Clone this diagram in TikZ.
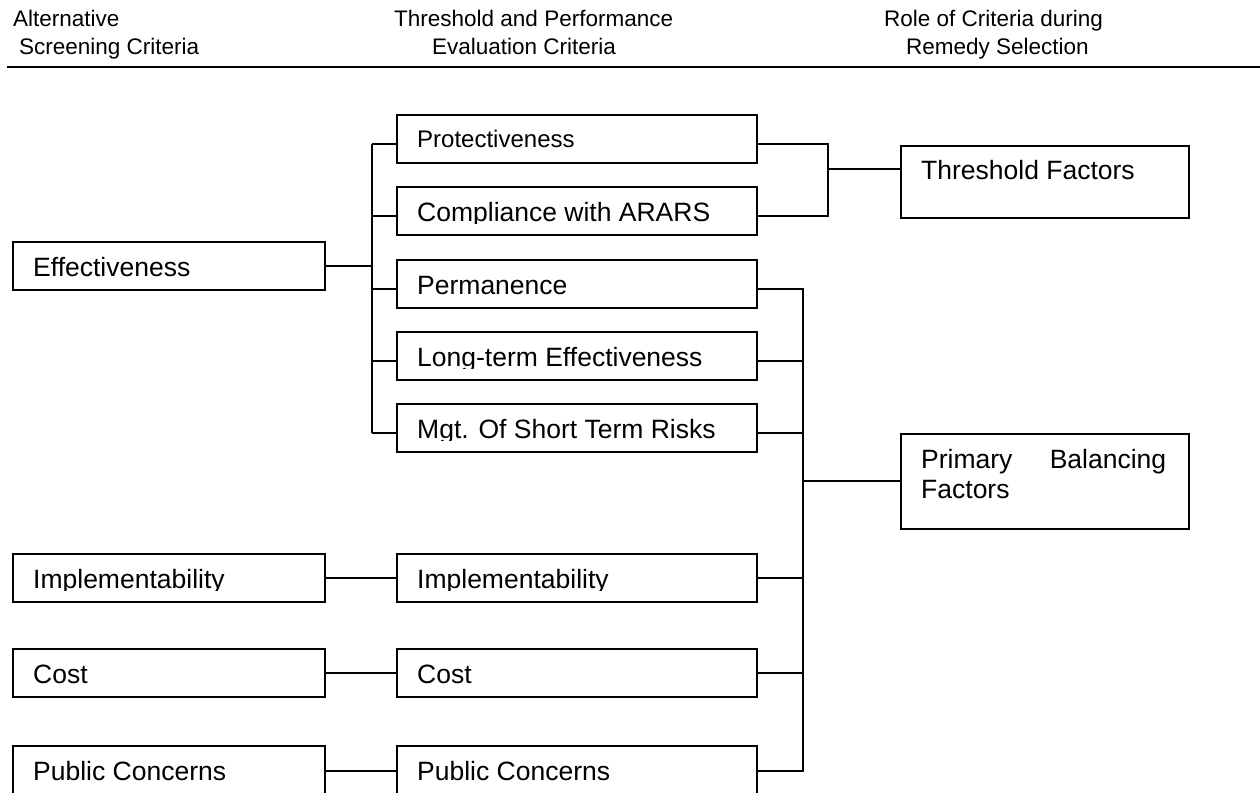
\documentclass[tikz,border=0pt]{standalone}
\usepackage{fontspec}
\setmainfont{Liberation Sans}
\usetikzlibrary{calc}
\begin{document}
\begin{tikzpicture}[x=1pt,y=-1pt,
  box/.style={draw, line width=1.8pt, inner sep=0pt, anchor=north west},
  wide/.style={minimum width=#1},
  tall/.style={minimum height=#1},
  wire/.style={line width=1.8pt},
  txt/.style={anchor=base west, inner sep=0pt, font=\fontsize{26.5pt}{30.5pt}\selectfont},
  smalltxt/.style={anchor=base west, inner sep=0pt, font=\fontsize{24pt}{28pt}\selectfont},
  headtxt/.style={anchor=base west, inner sep=0pt, font=\fontsize{22.5pt}{27pt}\selectfont},
  rulestyle/.style={line width=2.7pt}
]
\useasboundingbox (0,0) rectangle (1260,792);

% header
\node[headtxt] (h1a) at (13,27) {Alternative};
\node[headtxt] (h1b) at (19,55) {Screening Criteria};
\node[headtxt] (h2a) at (394,27) {Threshold and Performance};
\node[headtxt] (h2b) at (432,55) {Evaluation Criteria};
\node[headtxt] (h3a) at (884,27) {Role of Criteria during};
\node[headtxt] (h3b) at (906,55) {Remedy Selection};
\coordinate (rl) at (7,67);
\coordinate (rr) at (1262,67);
\draw[rulestyle] (rl) -- (rr);

% left column
\node[box, wide=312pt, tall=48pt] (eff) at (12,241) {};
\node[box, wide=312pt, tall=48pt] (imp1) at (12,553) {};
\node[box, wide=312pt, tall=48pt] (cost1) at (12,648) {};
\node[box, wide=312pt, tall=50pt] (pub1) at (12,745) {};

% middle column
\node[box, wide=360pt, tall=48pt] (prot) at (396,114) {};
\node[box, wide=360pt, tall=48pt] (comp) at (396,186) {};
\node[box, wide=360pt, tall=48pt] (perm) at (396,259) {};
\node[box, wide=360pt, tall=48pt] (long) at (396,331) {};
\node[box, wide=360pt, tall=48pt] (mgt) at (396,403) {};
\node[box, wide=360pt, tall=48pt] (imp2) at (396,553) {};
\node[box, wide=360pt, tall=48pt] (cost2) at (396,648) {};
\node[box, wide=360pt, tall=50pt] (pub2) at (396,745) {};

% right column
\node[box, wide=288pt, tall=72pt] (thr) at (900,145) {};
\node[box, wide=288pt, tall=95pt] (prim) at (900,433) {};

% texts (clipped like text frames)
\begin{scope}
\clip (eff.north west) rectangle ([yshift=-37pt]eff.north east)
      (imp1.north west) rectangle ([yshift=-37pt]imp1.north east)
      (cost1.north west) rectangle ([yshift=-37pt]cost1.north east)
      (pub1.north west) rectangle ([yshift=-37pt]pub1.north east)
      (prot.north west) rectangle ([yshift=-37pt]prot.north east)
      (comp.north west) rectangle ([yshift=-37pt]comp.north east)
      (perm.north west) rectangle ([yshift=-37pt]perm.north east)
      (long.north west) rectangle ([yshift=-37pt]long.north east)
      (mgt.north west) rectangle ([yshift=-37pt]mgt.north east)
      (imp2.north west) rectangle ([yshift=-37pt]imp2.north east)
      (cost2.north west) rectangle ([yshift=-37pt]cost2.north east)
      (pub2.north west) rectangle ([yshift=-37pt]pub2.north east);
\node[txt] (teff) at ([shift={(21pt,-35pt)}]eff.north west) {Effectiveness};
\node[txt] (timp1) at ([shift={(21pt,-35pt)}]imp1.north west) {Implementability};
\node[txt] (tcost1) at ([shift={(21pt,-35pt)}]cost1.north west) {Cost};
\node[txt] (tpub1) at ([shift={(21pt,-35pt)}]pub1.north west) {Public Concerns};
\node[smalltxt] (tprot) at ([shift={(21pt,-33pt)}]prot.north west) {Protectiveness};
\node[txt] (tcomp) at ([shift={(21pt,-35pt)}]comp.north west) {Compliance with ARARS};
\node[txt] (tperm) at ([shift={(21pt,-35pt)}]perm.north west) {Permanence};
\node[txt] (tlong) at ([shift={(21pt,-35pt)}]long.north west) {Long-term Effectiveness};
\node[txt] (tmgt) at ([shift={(21pt,-35pt)}]mgt.north west) {Mgt. Of Short Term Risks};
\node[txt] (timp2) at ([shift={(21pt,-35pt)}]imp2.north west) {Implementability};
\node[txt] (tcost2) at ([shift={(21pt,-35pt)}]cost2.north west) {Cost};
\node[txt] (tpub2) at ([shift={(21pt,-35pt)}]pub2.north west) {Public Concerns};
\end{scope}
\node[txt] (tthr) at ([shift={(21pt,-34pt)}]thr.north west) {Threshold Factors};
\node[txt] (tprim1) at ([shift={(21pt,-35pt)}]prim.north west) {\makebox[245pt][l]{Primary\hfill Balancing}};
\node[txt] (tprim2) at ([shift={(21pt,-65pt)}]prim.north west) {Factors};

% bus coordinates
\coordinate (lb) at (372,0);
\coordinate (tb) at (828,0);
\coordinate (rb) at (803,0);

% stub coordinates
\coordinate (protL) at ([yshift=-30pt]prot.north west);
\coordinate (compL) at ([yshift=-30pt]comp.north west);
\coordinate (permL) at ([yshift=-30pt]perm.north west);
\coordinate (longL) at ([yshift=-30pt]long.north west);
\coordinate (mgtL) at ([yshift=-30pt]mgt.north west);
\coordinate (protR) at ([yshift=-30pt]prot.north east);
\coordinate (compR) at ([yshift=-30pt]comp.north east);
\coordinate (permR) at ([yshift=-30pt]perm.north east);
\coordinate (longR) at ([yshift=-30pt]long.north east);
\coordinate (mgtR) at ([yshift=-30pt]mgt.north east);
\coordinate (thrL) at ([yshift=-24pt]thr.north west);
\coordinate (primL) at ([yshift=-48pt]prim.north west);

% effectiveness fan-out
\draw[wire] (eff.east) -- (eff.east -| lb);
\draw[wire] (protL -| lb) -- (mgtL -| lb);
\draw[wire] (protL -| lb) -- (protL);
\draw[wire] (compL -| lb) -- (compL);
\draw[wire] (permL -| lb) -- (permL);
\draw[wire] (longL -| lb) -- (longL);
\draw[wire] (mgtL -| lb) -- (mgtL);

% threshold bracket
\draw[wire] (protR) -- (protR -| tb) -- (compR -| tb) -- (compR);
\draw[wire] (thrL -| tb) -- (thrL);

% balancing bus
\draw[wire] (permR) -- (permR -| rb) -- (pub2.east -| rb) -- (pub2.east);
\draw[wire] (longR) -- (longR -| rb);
\draw[wire] (mgtR) -- (mgtR -| rb);
\draw[wire] (imp2.east) -- (imp2.east -| rb);
\draw[wire] (cost2.east) -- (cost2.east -| rb);
\draw[wire] (primL -| rb) -- (primL);

% bottom rows
\draw[wire] (imp1.east) -- (imp2.west);
\draw[wire] (cost1.east) -- (cost2.west);
\draw[wire] (pub1.east) -- (pub2.west);
\end{tikzpicture}
\end{document}
